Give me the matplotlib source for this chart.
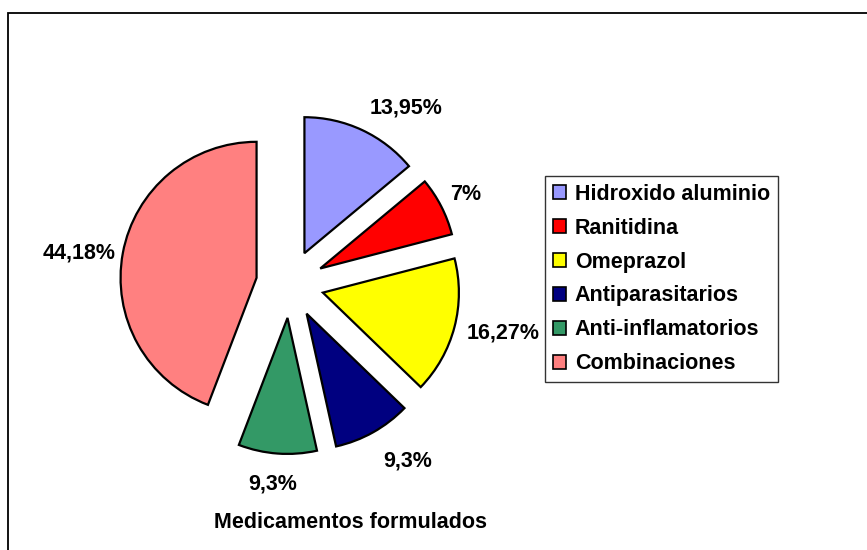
import numpy as np
import matplotlib
matplotlib.use("Agg")
import matplotlib.pyplot as plt
from matplotlib.patches import Rectangle

categories = ["Hidroxido aluminio", "Ranitidina", "Omeprazol",
              "Antiparasitarios", "Anti-inflamatorios", "Combinaciones"]
values = [13.95, 7, 16.27, 9.3, 9.3, 44.18]
labels = ["13,95%", "7%", "16,27%", "9,3%", "9,3%", "44,18%"]
colors = ["#9999FF", "#FF0000", "#FFFF00", "#000080", "#339966", "#FF8080"]
title = "Medicamentos formulados"

plt.rcParams['font.family'] = ['Liberation Sans', 'DejaVu Sans']

W, H = 867, 550
fig = plt.figure(figsize=(W / 100, H / 100), dpi=100)
ax = fig.add_axes([0, 0, 1, 1])

# chart frame
ax.add_patch(Rectangle((8, -10), W + 20, H - 12.5 + 10, fill=False,
                       edgecolor='black', linewidth=1.3))

cx, cy = 290, H - 284
R = 136
expl = 34
wedges, _ = ax.pie(values, colors=colors, startangle=90, counterclock=False,
                   center=(cx, cy), radius=R, explode=[expl] * len(values),
                   wedgeprops=dict(edgecolor='black', linewidth=1.6),
                   frame=True)
ax.set_xlim(0, W)
ax.set_ylim(0, H)
ax.set_aspect('equal')
ax.axis('off')

# percentage labels (offsets from pie centre, pixels; dy measured downward)
label_dx = [116, 176, 213, 118, -17, -211]
label_dy = [-176, -89, 49, 177, 200, -31]
for lab, dx, dy in zip(labels, label_dx, label_dy):
    ax.text(cx + dx, cy - dy, lab, ha='center', va='center',
            fontsize=15.5, fontweight='bold')

ax.text(350, H - 523, title, ha='center', va='center',
        fontsize=15.5, fontweight='bold')

leg = ax.legend(wedges, categories, loc='center left',
                bbox_to_anchor=(545 / W, 1 - 279 / H),
                prop=dict(size=15.5, weight='bold'),
                frameon=True, fancybox=False, edgecolor='black',
                handlelength=0.6, handleheight=0.6, handletextpad=0.4,
                labelspacing=0.6, borderpad=0.38, borderaxespad=0)
leg.get_frame().set_linewidth(1.0)
for h in leg.legend_handles:
    h.set_linewidth(1.2)

fig.savefig("out.png", dpi=100)
